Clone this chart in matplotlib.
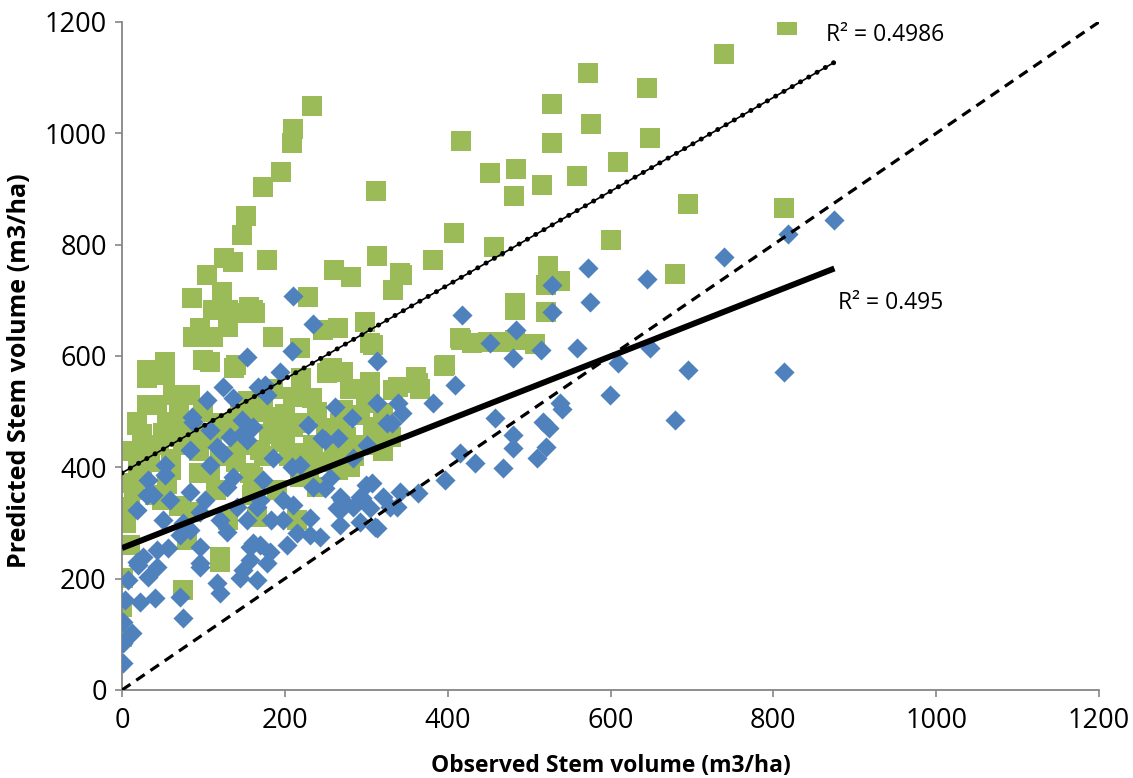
import numpy as np
import matplotlib
matplotlib.use("Agg")
import matplotlib.pyplot as plt

plt.rcParams['font.family'] = ['Open Sans', 'DejaVu Sans']

# green squares: observed vs predicted (upper series)
green_obs = [
    817, 739, 572, 645, 528, 576, 648, 528, 609, 559, 516, 484, 452, 481, 416, 312,
    695, 813, 601, 408, 457, 382, 342, 333, 313, 281, 260, 523, 521, 538, 521, 483,
    483, 679, 483, 416, 430, 449, 507, 395, 361, 366, 344,
    233, 210, 209, 195, 173, 152, 147, 178, 125, 136, 104, 86, 123, 228, 112, 130,
    156, 155, 130, 96, 87, 185, 112, 219, 247, 53, 31, 100, 108, 140,
    138, 31, 53, 63, 84, 31, 43, 18, 55, 161, 265, 298, 305, 258, 252, 271, 305,
    305, 333, 210, 233, 173, 185, 271, 292, 320, 163, 415, 467, 255, 397, 364, 339, 308,
    18, 31, 10, 10, 10, 120, 50, 84, 157, 108, 49, 185, 268, 308, 210, 222, 169,
    161, 190, 219, 166, 1, 0, 0, 75, 120,
    20, 35, 60, 75, 95, 110, 130, 145, 195, 205, 235, 245, 285, 300, 315, 325,
    130, 215, 240, 265, 15, 40, 70, 5, 80, 25, 155, 145, 100, 120, 180, 250,
    300, 280, 220, 200, 185, 60,
    150, 165, 175, 200, 220, 260, 275, 240, 120, 90, 70, 45, 10, 25, 65, 95,
    140, 115, 85, 160, 230, 280, 320, 330, 55,
]
green_pred = [
    1195, 1142, 1108, 1081, 1052, 1017, 991, 983, 948, 923, 907, 936, 929, 887, 986, 896,
    873, 866, 809, 821, 796, 772, 749, 719, 780, 742, 754, 762, 727, 735, 679, 695,
    683, 748, 629, 629, 623, 625, 622, 582, 562, 541, 745,
    1049, 1008, 983, 930, 904, 851, 817, 772, 776, 769, 745, 704, 715, 706, 683, 683,
    688, 677, 652, 650, 634, 634, 634, 614, 647, 589, 575, 593, 589, 584,
    578, 560, 566, 530, 530, 512, 512, 481, 481, 683, 650, 661, 623, 578, 569, 571, 553,
    539, 539, 526, 524, 526, 490, 503, 494, 497, 677, 632, 625, 575, 584, 551, 544, 620,
    476, 426, 372, 329, 260, 239, 462, 472, 390, 390, 341, 480, 480, 472, 472, 425, 431,
    383, 359, 383, 311, 201, 149, 95, 180, 230,
    400, 410, 395, 440, 430, 455, 470, 440, 445, 420, 440, 410, 420, 440, 455, 470,
    305, 305, 365, 395, 360, 350, 330, 300, 270, 380, 520, 500, 500, 420, 460, 470,
    515, 540, 560, 495, 540, 415,
    470, 500, 420, 450, 480, 430, 455, 500, 480, 460, 500, 440, 430, 460, 470, 390,
    410, 360, 320, 350, 400, 400, 430, 455, 370,
]

# blue diamonds: observed vs predicted (lower series)
blue_obs = [
    875, 818, 739, 572, 645, 575, 559, 648, 609, 695, 813, 599, 679, 540, 528, 528,
    418, 484, 452, 480, 515, 409,
    262, 282, 313, 339, 344, 332, 382, 249, 265, 301, 284, 255, 249, 270, 268, 268,
    295, 300, 305, 313, 338, 342, 364, 397, 415, 434, 458, 480, 480, 468, 510, 517,
    525, 521, 538, 243,
    210, 234, 209, 194, 176, 178, 313, 228, 154, 124, 104, 136, 86, 147, 167,
    53, 53, 32, 84, 117, 108, 87, 133, 154, 108, 124, 136, 129, 31, 38, 59, 84, 102,
    18, 50, 75, 71, 96, 120, 141, 154, 161, 96, 84, 129, 43, 57, 26, 18, 96, 157, 166,
    149, 161,
    246, 325, 185, 209, 219, 173, 234, 307, 292, 268, 321, 264, 284, 198, 169, 210,
    231, 292, 311, 183, 198, 215, 231, 203, 182, 169, 157, 329,
    20, 43, 32, 7, 4, 22, 41, 71, 75, 1, 12, 1, 1, 96, 117, 120, 145, 166, 149, 178,
]
blue_pred = [
    844, 819, 778, 758, 738, 697, 614, 614, 587, 575, 571, 530, 485, 505, 727, 679,
    674, 647, 623, 596, 611, 548,
    508, 489, 516, 516, 498, 480, 516, 449, 453, 440, 417, 381, 363, 341, 323, 296,
    345, 368, 327, 291, 329, 356, 354, 377, 426, 408, 489, 458, 435, 399, 417, 481,
    471, 437, 516, 275,
    708, 657, 609, 571, 548, 530, 591, 476, 598, 545, 521, 524, 490, 485, 545,
    404, 386, 377, 431, 437, 467, 481, 455, 449, 404, 425, 383, 365, 350, 350, 341, 356, 341,
    323, 305, 300, 278, 320, 305, 329, 305, 264, 257, 287, 284, 251, 255, 239, 230, 228, 233, 329,
    462, 472,
    453, 480, 417, 401, 404, 377, 365, 372, 347, 347, 347, 327, 329, 341, 341, 332,
    309, 302, 293, 305, 305, 282, 278, 260, 248, 260, 257, 329,
    225, 221, 203, 198, 162, 158, 165, 167, 129, 122, 102, 84, 48, 221, 192, 174, 201, 198, 216, 228,
]

# trendlines: slope, intercept, x extent
blue_fit = (0.574, 255)
green_fit = (0.843, 390)
fit_x = [0, 875]
one_to_one = [0, 1200]

green_r2 = "R\u00b2 = 0.4986"
blue_r2 = "R\u00b2 = 0.495"

W, H = 1133, 778
fig = plt.figure(figsize=(W / 100, H / 100), dpi=100)
ax = fig.add_axes([122 / W, 88 / H, 977 / W, 668 / H])

ax.scatter(green_obs, green_pred, marker='s', s=205, color='#9BBB59', linewidths=0, zorder=2)
ax.scatter(blue_obs, blue_pred, marker='D', s=105, color='#4F81BD', linewidths=0, zorder=3)

fx = np.array(fit_x, dtype=float)
ax.plot(one_to_one, one_to_one, color='black', lw=2.3, ls=(0, (3.2, 2.2)), zorder=4)
ax.plot(fx, blue_fit[0] * fx + blue_fit[1], color='black', lw=4.3, solid_capstyle='butt', zorder=5)
ax.plot(fx, green_fit[0] * fx + green_fit[1], color='black', lw=1.2, zorder=5)
ax.plot(fx, green_fit[0] * fx + green_fit[1], color='black', lw=3.6,
        ls=(0, (0.01, 1.9)), dash_capstyle='round', zorder=5)

ax.text(865, 1177, green_r2, fontsize=16.5, va='center', ha='left')
ax.text(879, 695, blue_r2, fontsize=16.5, va='center', ha='left')

ax.set_xlim(0, 1200)
ax.set_ylim(0, 1200)
ax.set_xticks(np.arange(0, 1201, 200))
ax.set_yticks(np.arange(0, 1201, 200))

for side in ['top', 'right']:
    ax.spines[side].set_visible(False)
for side in ['left', 'bottom']:
    ax.spines[side].set_color('#868686')
    ax.spines[side].set_linewidth(1.3)
ax.tick_params(direction='out', length=5, width=1.2, color='#868686', labelsize=19.5)
ax.tick_params(axis='y', pad=6)
ax.tick_params(axis='x', pad=7)

fig.text(611 / W, 1 - 766 / H, 'Observed Stem volume (m3/ha)', fontsize=16.5,
         fontweight='bold', ha='center', va='center')
fig.text(20 / W, 1 - 371 / H, 'Predicted Stem volume (m3/ha)', fontsize=18,
         fontweight='bold', ha='center', va='center', rotation=90)

fig.savefig('out.png', dpi=100)
